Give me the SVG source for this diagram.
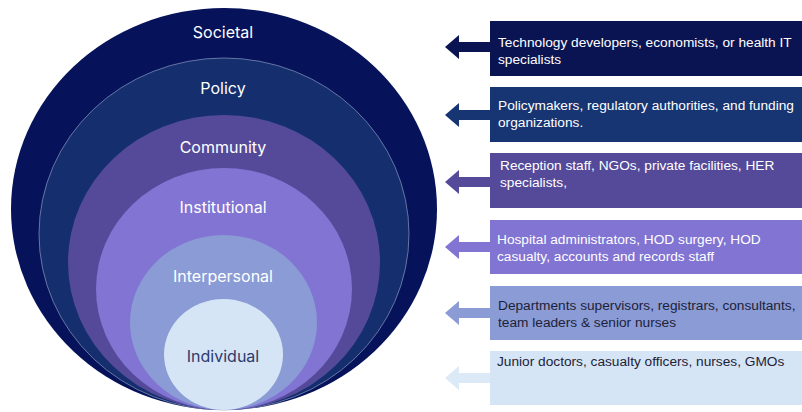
<svg xmlns="http://www.w3.org/2000/svg" width="802" height="412" viewBox="0 0 802 412">
<style>
.ring{font-family:Inter,"Noto Sans",sans-serif;font-size:16px;text-anchor:middle;fill:#ffffff}
.box{font-family:"Liberation Sans",Arial,sans-serif;font-size:13.7px;fill:#ffffff}
.dark{fill:#1e2238}
</style>
<rect width="802" height="412" fill="#ffffff"/>
<g id="societal">
<ellipse cx="224" cy="209" rx="213" ry="201" fill="#06125a"/>
<text class="ring" x="223" y="38">Societal</text>
</g>
<g id="policy">
<ellipse cx="224" cy="234" rx="185" ry="176" fill="#142e6e" stroke="#8d9ac0" stroke-width="0.7"/>
<text class="ring" x="223" y="94">Policy</text>
</g>
<g id="community">
<ellipse cx="224" cy="262.5" rx="156" ry="147.5" fill="#554a9a"/>
<text class="ring" x="223" y="153">Community</text>
</g>
<g id="institutional">
<ellipse cx="224" cy="289" rx="128" ry="121" fill="#8174d2"/>
<text class="ring" x="223" y="213">Institutional</text>
</g>
<g id="interpersonal">
<ellipse cx="223.5" cy="322.5" rx="93.5" ry="87.5" fill="#8a9bd6"/>
<text class="ring" x="223" y="282">Interpersonal</text>
</g>
<g id="individual">
<ellipse cx="223.5" cy="354.5" rx="59.5" ry="55.5" fill="#d5e5f5"/>
<text class="ring" x="223" y="362" style="fill:#2c3a6e">Individual</text>
</g>
<g id="connectors">
<path d="M445 47 L459 35 L459 42 L491 42 L491 52 L459 52 L459 59 Z" fill="#0b1452"/>
<path d="M445 115 L459 103 L459 110 L491 110 L491 120 L459 120 L459 127 Z" fill="#173573"/>
<path d="M445 182 L459 170 L459 177 L491 177 L491 187 L459 187 L459 194 Z" fill="#554a9a"/>
<path d="M445 247 L459 235 L459 242 L491 242 L491 252 L459 252 L459 259 Z" fill="#8174d2"/>
<path d="M445 313 L459 301 L459 308 L491 308 L491 318 L459 318 L459 325 Z" fill="#8a9bd6"/>
<path d="M445 378 L459 366 L459 373 L491 373 L491 383 L459 383 L459 390 Z" fill="#dce9f7"/>
</g>
<g id="box-societal">
<rect x="490" y="21" width="312" height="55" fill="#0b1452"/>
<text class="box" x="498" y="47">Technology developers, economists, or health IT</text>
<text class="box" x="498" y="64">specialists</text>
</g>
<g id="box-policy">
<rect x="490" y="87" width="312" height="55" fill="#173573"/>
<text class="box" x="498" y="110">Policymakers, regulatory authorities, and funding</text>
<text class="box" x="498" y="127">organizations.</text>
</g>
<g id="box-community">
<rect x="490" y="153" width="312" height="55" fill="#554a9a"/>
<text class="box" x="500" y="170">Reception staff, NGOs, private facilities, HER</text>
<text class="box" x="500" y="187">specialists,</text>
</g>
<g id="box-institutional">
<rect x="490" y="220" width="312" height="54" fill="#8174d2"/>
<text class="box" x="497" y="244">Hospital administrators, HOD surgery, HOD</text>
<text class="box" x="497" y="261">casualty, accounts and records staff</text>
</g>
<g id="box-interpersonal">
<rect x="490" y="286" width="312" height="54" fill="#8a9bd6"/>
<text class="box dark" x="498" y="310">Departments supervisors, registrars, consultants,</text>
<text class="box dark" x="498" y="327">team leaders &amp; senior nurses</text>
</g>
<g id="box-individual">
<rect x="490" y="351" width="312" height="54" fill="#d5e5f5"/>
<text class="box dark" x="497" y="366">Junior doctors, casualty officers, nurses, GMOs</text>
</g>
</svg>
